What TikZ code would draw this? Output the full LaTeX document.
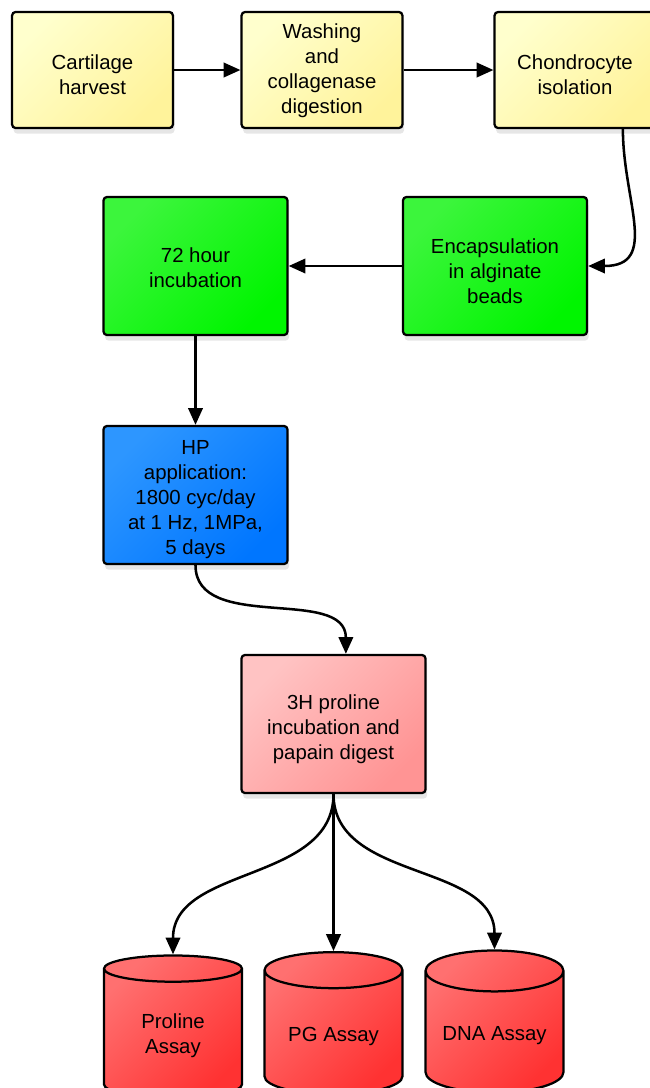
\documentclass[tikz,border=0pt]{standalone}
\usepackage{fontspec}
\setmainfont{Liberation Sans}
\usetikzlibrary{shapes,arrows.meta,positioning,shadows}

\definecolor{yellowA}{RGB}{255,255,205}
\definecolor{yellowB}{RGB}{255,243,155}
\definecolor{greenA}{RGB}{60,245,60}
\definecolor{greenB}{RGB}{0,245,0}
\definecolor{blueA}{RGB}{45,150,255}
\definecolor{blueB}{RGB}{0,118,255}
\definecolor{pinkA}{RGB}{255,195,195}
\definecolor{pinkB}{RGB}{255,148,148}
\definecolor{redA}{RGB}{255,112,112}
\definecolor{redB}{RGB}{255,50,50}

\begin{document}
\begin{tikzpicture}[x=0.025cm, y=-0.025cm,
    box/.style={rectangle, draw, line width=1.6pt, rounded corners=2.5pt, align=center,
        font=\fontsize{14.5}{17.7}\selectfont,
        drop shadow={shadow xshift=0.4mm, shadow yshift=-1.4mm, opacity=0.2}},
    small/.style={box, minimum width=4.02cm, minimum height=2.9cm},
    large/.style={box, minimum width=4.6cm, minimum height=3.45cm},
    shade2/.style 2 args={top color=#1, bottom color=#2, shading angle=45},
    assay/.style={cylinder, shape border rotate=90, aspect=0.36, draw, line width=1.6pt,
        align=center, minimum width=3.45cm, minimum height=3.55cm,
        font=\fontsize{14.5}{17.7}\selectfont, shade2={redA}{redB}},
    arrow/.style={->, line width=1.8pt, >={Triangle[length=4.2mm, width=3.6mm]}}]

    \useasboundingbox (0,0) rectangle (650,1088);

    % Preparation
    \node[small, shade2={yellowA}{yellowB}, text height=35pt] (harvest) at (92.5,70) {Cartilage\\harvest};
    \node[small, shade2={yellowA}{yellowB}, text height=65pt] (wash) at (322,70) {Washing\\and\\collagenase\\digestion};
    \node[small, shade2={yellowA}{yellowB}, text height=35pt] (iso) at (575,70) {Chondrocyte\\isolation};

    % Culture
    \node[large, shade2={greenA}{greenB}, text height=53pt] (encap) at (495,266) {Encapsulation\\in alginate\\beads};
    \node[large, shade2={greenA}{greenB}, text height=30pt] (incub) at (195.5,266) {72 hour\\incubation};

    % Loading
    \node[large, shade2={blueA}{blueB}, text height=87pt] (hp) at (195.5,495) {HP\\application:\\1800 cyc/day\\at 1 Hz, 1MPa,\\5 days};

    % Digest
    \node[large, shade2={pinkA}{pinkB}, text height=53.6pt] (digest) at (333.5,724) {3H proline\\incubation and\\papain digest};

    % Assays
    \node[assay] (proline) at (173,1036) {Proline\\Assay};
    \node[assay] (pg) at (333.5,1036) {PG Assay};
    \node[assay] (dna) at (494.5,1036) {DNA Assay};

    % Arrows
    \draw[arrow] (harvest) -- (wash);
    \draw[arrow] (wash) -- (iso);
    \draw[arrow] (iso.-51) to[out=-90, in=0, looseness=1.3] (encap.east);
    \draw[arrow] (encap) -- (incub);
    \draw[arrow] (incub) -- (hp);
    \draw[arrow] (hp.south) to[out=-90, in=90] (digest.80);
    \draw[arrow] (digest.south) to[out=-90, in=90] (proline.north);
    \draw[arrow] (digest.south) -- (pg.north);
    \draw[arrow] (digest.south) to[out=-90, in=90] (dna.north);

\end{tikzpicture}
\end{document}
